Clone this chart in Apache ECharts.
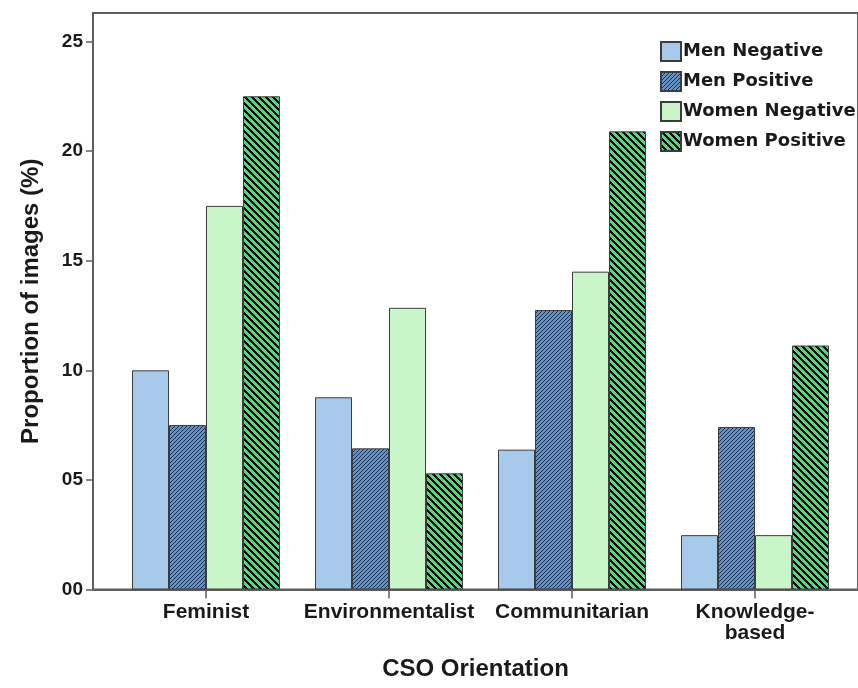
<!DOCTYPE html>
<html>
<head>
<meta charset="utf-8">
<script src="https://cdn.jsdelivr.net/npm/echarts@6/dist/echarts.min.js"></script>
<style>
html,body{margin:0;padding:0;background:#fff;}
#chart{width:858px;height:688px;}
</style>
</head>
<body>
<div id="chart"></div>
<script>
const categories = ['Feminist', 'Environmentalist', 'Communitarian', 'Knowledge-\nbased'];
const menNegative = [10.0, 8.77, 6.38, 2.48];
const menPositive = [7.5, 6.44, 12.75, 7.41];
const womenNegative = [17.5, 12.85, 14.5, 2.48];
const womenPositive = [22.5, 5.3, 20.9, 11.13];
const yTicks = [0, 5, 10, 15, 20, 25];

function hex(c) { return [parseInt(c.slice(1,3),16), parseInt(c.slice(3,5),16), parseInt(c.slice(5,7),16)]; }
// pixel-exact seamless diagonal stripe tile
function stripes(bg, fg, p, w, dir) {
  const c = document.createElement('canvas');
  c.width = p; c.height = p;
  const ctx = c.getContext('2d');
  const img = ctx.createImageData(p, p);
  const b = hex(bg), f = hex(fg);
  for (let y = 0; y < p; y++) {
    for (let x = 0; x < p; x++) {
      const t = dir === '/' ? ((x + y) % p) : (((x - y) % p) + p) % p;
      const col = t < w ? f : b;
      const i = (y * p + x) * 4;
      img.data[i] = col[0]; img.data[i + 1] = col[1]; img.data[i + 2] = col[2]; img.data[i + 3] = 255;
    }
  }
  ctx.putImageData(img, 0, 0);
  return { image: c, repeat: 'repeat' };
}

const chart = echarts.init(document.getElementById('chart'), null, { renderer: 'canvas' });
const FONT = 'Liberation Sans';
const axisColor = '#5e5e5e';
const YMAX = 26.3;

const barBase = { type: 'bar', xAxisIndex: 0, yAxisIndex: 0, barWidth: 37, barGap: '0%' };
const border = { borderColor: '#3c3c3c', borderWidth: 1 };

chart.setOption({
  animation: false,
  backgroundColor: '#ffffff',
  grid: [
    { left: 114.5, width: 732, top: 13, height: 576.5 },
    { left: 93, right: -3, top: 13, height: 576.5, show: true, borderColor: axisColor, borderWidth: 2, backgroundColor: 'transparent' }
  ],
  legend: {
    orient: 'vertical', left: 655, top: 36, itemWidth: 20, itemHeight: 19, itemGap: 9, icon: 'rect',
    textStyle: { fontFamily: 'DejaVu Sans', fontWeight: 'bold', fontSize: 18, color: '#1a1a1a', padding: [0, 0, 0, -3] },
    data: ['Men Negative', 'Men Positive', 'Women Negative', 'Women Positive']
  },
  xAxis: [
    {
      type: 'category', gridIndex: 0, data: categories,
      axisLine: { show: false },
      axisTick: { show: true, alignWithLabel: true, interval: 0, length: 9, lineStyle: { color: axisColor, width: 1.5 } },
      axisLabel: { interval: 0, margin: 12, fontFamily: FONT, fontWeight: 'bold', fontSize: 21, color: '#1a1a1a', lineHeight: 21 },
      splitLine: { show: false }
    },
    {
      type: 'value', gridIndex: 1, min: 0, max: 1,
      axisLine: { show: true, lineStyle: { color: axisColor, width: 2 } },
      axisTick: { show: false }, axisLabel: { show: false }, splitLine: { show: false },
      name: 'CSO Orientation', nameLocation: 'middle', nameGap: 68,
      nameTextStyle: { fontFamily: FONT, fontWeight: 'bold', fontSize: 24, color: '#1a1a1a', verticalAlign: 'top' }
    }
  ],
  yAxis: [
    { type: 'value', gridIndex: 0, min: 0, max: YMAX, show: false },
    {
      type: 'value', gridIndex: 1, min: 0, max: YMAX,
      axisLine: { show: true, lineStyle: { color: axisColor, width: 2 } },
      axisTick: { show: true, length: 7, customValues: yTicks, lineStyle: { color: axisColor, width: 1.5 } },
      axisLabel: {
        customValues: yTicks, margin: 10, fontFamily: FONT, fontWeight: 'bold', fontSize: 19, color: '#1a1a1a',
        formatter: v => (v < 10 ? '0' : '') + v
      },
      splitLine: { show: false },
      name: 'Proportion of images (%)', nameLocation: 'middle', nameGap: 50,
      nameTextStyle: { fontFamily: FONT, fontWeight: 'bold', fontSize: 24, color: '#1a1a1a' }
    }
  ],
  series: [
    Object.assign({}, barBase, { name: 'Men Negative', data: menNegative, itemStyle: Object.assign({ color: '#a8caea' }, border) }),
    Object.assign({}, barBase, { name: 'Men Positive', data: menPositive, itemStyle: Object.assign({ color: stripes('#6592c6', '#1c3150', 4, 1, '/') }, border) }),
    Object.assign({}, barBase, { name: 'Women Negative', data: womenNegative, itemStyle: Object.assign({ color: '#c9f6c9' }, border) }),
    Object.assign({}, barBase, { name: 'Women Positive', data: womenPositive, itemStyle: Object.assign({ color: stripes('#5fd282', '#0a0a0a', 7, 3, '\\') }, border) })
  ]
});
</script>
</body>
</html>
